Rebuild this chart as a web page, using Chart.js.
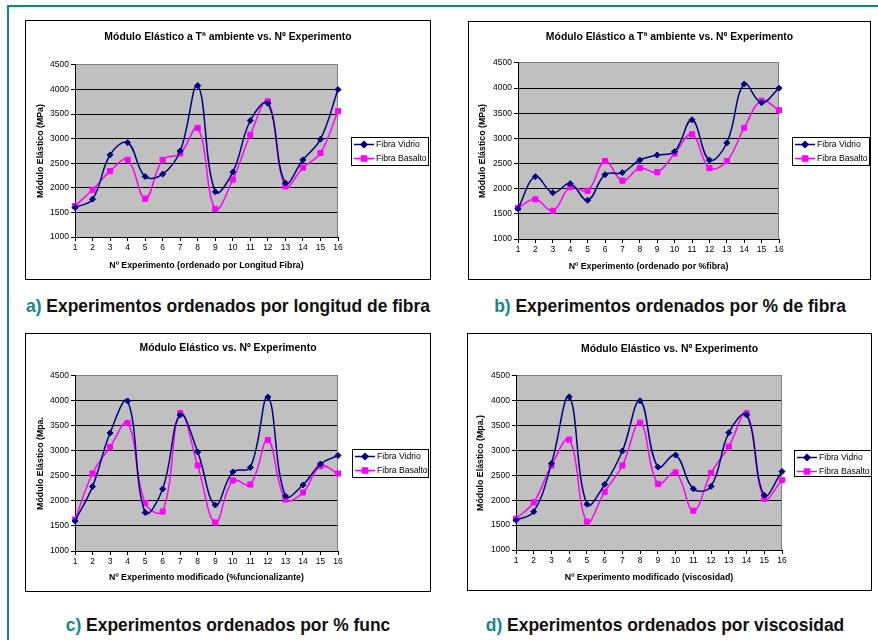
<!DOCTYPE html>
<html><head><meta charset="utf-8">
<script src="https://cdn.jsdelivr.net/npm/chart.js@4.4.1/dist/chart.umd.min.js"></script>
<style>
html,body{margin:0;padding:0;background:#fff;}
body{width:878px;height:640px;position:relative;overflow:hidden;}
#frame{position:absolute;left:7px;top:5px;width:900px;height:700px;border-left:2px solid #0E8A83;border-top:2px solid #0E8A83;}
.box{position:absolute;}
.box canvas{display:block;}
.capwrap{position:absolute;height:22px;}
.cap{position:absolute;left:50%;top:0;font-family:'Liberation Sans',Arial,sans-serif;font-weight:bold;font-size:18.5px;color:#111;white-space:nowrap;line-height:22px;transform-origin:50% 50%;transform:translateX(-50%);}
.cap span{color:#0E8A83;}
</style></head>
<body>
<div id="frame"></div>
<div class="box" style="left:25px;top:20px"><canvas id="ca" width="406" height="260"></canvas></div>
<div class="box" style="left:468px;top:21px"><canvas id="cb" width="403" height="259"></canvas></div>
<div class="box" style="left:25px;top:333px"><canvas id="cc" width="406" height="259"></canvas></div>
<div class="box" style="left:467px;top:333px"><canvas id="cd" width="405" height="258"></canvas></div>
<div class="capwrap" style="left:25px;top:295px;width:406px"><div class="cap" id="capA"><span>a)</span> Experimentos ordenados por longitud de fibra</div></div>
<div class="capwrap" style="left:468px;top:295px;width:403px"><div class="cap"><span>b)</span> Experimentos ordenados por % de fibra</div></div>
<div class="capwrap" style="left:25px;top:614px;width:406px"><div class="cap"><span>c)</span> Experimentos ordenados por % func</div></div>
<div class="capwrap" style="left:462px;top:614px;width:405px"><div class="cap"><span>d)</span> Experimentos ordenados por viscosidad</div></div>
<script>
// ---- data ----
const categories = ['1','2','3','4','5','6','7','8','9','10','11','12','13','14','15','16'];
const seriesNames = ['Fibra Vidrio', 'Fibra Basalto'];
const yTicks = [1000, 1500, 2000, 2500, 3000, 3500, 4000, 4500];

const vidrioA  = [1600,1770,2670,2920,2230,2280,2750,4080,1920,2320,3370,3720,2100,2570,2990,4000];
const basaltoA = [1630,1960,2340,2570,1780,2570,2700,3220,1570,2170,3080,3760,2030,2410,2710,3560];

const vidrioB  = [1600,2240,1920,2100,1770,2280,2320,2570,2670,2740,3370,2570,2910,4080,3710,4000];
const basaltoB = [1620,1790,1560,2030,1960,2550,2160,2410,2330,2700,3080,2410,2550,3210,3750,3560];

const vidrioC  = [1600,2290,3360,4000,1770,2240,3720,2980,1920,2580,2670,4080,2100,2320,2740,2910];
const basaltoC = [1630,2550,3080,3560,1960,1790,3760,2710,1570,2410,2330,3220,2030,2170,2700,2550];

const vidrioD  = [1600,1770,2740,4080,1920,2320,2990,4000,2670,2910,2230,2280,3360,3720,2100,2580];
const basaltoD = [1630,1960,2700,3220,1570,2170,2700,3560,2330,2560,1790,2550,3080,3750,2030,2410];

const titleAB = 'Módulo Elástico a Tª ambiente vs. Nº Experimento';
const titleCD = 'Módulo Elástico vs. Nº Experimento';
const yTitleA = 'Módulo Elástico (MPa)';
const yTitleB = 'Módulo Elástico (MPa)';
const yTitleC = 'Módulo Elástico (Mpa.';
const yTitleD = 'Módulo Elástico (Mpa.)';
const xTitleA = 'Nº Experimento (ordenado por Longitud Fibra)';
const xTitleB = 'Nº Experimento (ordenado por %fibra)';
const xTitleC = 'Nº Experimento modificado (%funcionalizante)';
const xTitleD = 'Nº Experimento modificado (viscosidad)';

// ---- captions: condensed look ----
(function(){
  const caps = document.querySelectorAll('.cap');
  const a = document.getElementById('capA');
  const s = 404 / a.getBoundingClientRect().width;
  caps.forEach(c => { c.style.transform = 'translateX(-50%) scaleX(' + s + ')'; });
})();

// ---- styling ----
Chart.defaults.font.family = "'Liberation Sans', Arial, sans-serif";
Chart.defaults.color = '#000';

const excelPlugin = {
  id: 'excelLook',
  beforeDraw(chart) {
    const {ctx, chartArea: a} = chart;
    ctx.save();
    ctx.fillStyle = '#C0C0C0';
    ctx.fillRect(a.left, a.top, a.right - a.left, a.bottom - a.top);
    ctx.restore();
  },
  beforeDatasetsDraw(chart) {
    const {ctx, chartArea: a} = chart;
    ctx.save();
    ctx.strokeStyle = '#808080';
    ctx.lineWidth = 1;
    ctx.beginPath();
    ctx.moveTo(Math.round(a.right) - 0.5, a.top);
    ctx.lineTo(Math.round(a.right) - 0.5, a.bottom);
    ctx.stroke();
    ctx.restore();
  },
  afterDraw(chart, args, opts) {
    const ctx = chart.ctx;
    const L = opts.legend;
    ctx.save();
    ctx.strokeStyle = '#000';
    ctx.lineWidth = 1;
    ctx.strokeRect(0.5, 0.5, chart.width - 1, chart.height - 1);
    ctx.fillStyle = '#fff';
    ctx.fillRect(L.x + 0.5, L.y + 0.5, L.w, L.h);
    ctx.strokeRect(L.x + 0.5, L.y + 0.5, L.w, L.h);
    chart.data.datasets.forEach((ds, i) => {
      const y = L.y + 7.5 + i * 14;
      ctx.strokeStyle = ds.borderColor;
      ctx.lineWidth = ds.borderWidth;
      ctx.beginPath();
      ctx.moveTo(L.x + 3, y);
      ctx.lineTo(L.x + 23, y);
      ctx.stroke();
      ctx.fillStyle = ds.pointBackgroundColor;
      ctx.strokeStyle = ds.pointBorderColor;
      Chart.helpers.drawPoint(ctx, {pointStyle: ds.pointStyle, radius: ds.pointRadius, borderWidth: 1, rotation: 0}, L.x + 13, y);
      ctx.fillStyle = '#000';
      ctx.font = "8.6px 'Liberation Sans', Arial, sans-serif";
      ctx.textBaseline = 'middle';
      ctx.textAlign = 'left';
      ctx.fillText(ds.label, L.x + 25, y + 0.5);
    });
    ctx.restore();
  }
};

function makeChart(id, vidrio, basalto, title, yTitle, xTitle, lay) {
  return new Chart(document.getElementById(id), {
    type: 'line',
    data: {
      labels: categories,
      datasets: [
        {label: seriesNames[0], data: vidrio, borderColor: '#000080', backgroundColor: '#000080',
         pointBackgroundColor: '#000080', pointBorderColor: '#000080', pointStyle: 'rectRot',
         pointRadius: 3, pointBorderWidth: 1, borderWidth: 1.5, tension: 0.4, fill: false},
        {label: seriesNames[1], data: basalto, borderColor: '#FF00FF', backgroundColor: '#FF00FF',
         pointBackgroundColor: '#FF00FF', pointBorderColor: '#FF00FF', pointStyle: 'rect',
         pointRadius: 3.6, pointBorderWidth: 1, borderWidth: 1.5, tension: 0.4, fill: false}
      ]
    },
    options: {
      responsive: false,
      animation: false,
      devicePixelRatio: 1,
      layout: {padding: 0},
      plugins: {
        legend: {display: false},
        tooltip: {enabled: false},
        title: {display: true, text: title, font: {size: 10.4, weight: 'bold'}, color: '#000',
                padding: {top: lay.tTop, bottom: lay.tBottom}},
        excelLook: {legend: lay.legend}
      },
      scales: {
        x: {
          type: 'category',
          offset: false,
          afterFit: s => { s.height = lay.xH; },
          grid: {drawOnChartArea: false, drawTicks: true, tickLength: 4, color: '#000', tickColor: '#000'},
          border: {display: true, color: '#000', width: 1},
          ticks: {font: {size: 8.5}, color: '#000', padding: 2, maxRotation: 0, autoSkip: false},
          title: {display: true, text: xTitle, font: {size: 8.8, weight: 'bold'}, color: '#000',
                  padding: {top: 0, bottom: lay.xTitlePad}}
        },
        y: {
          min: yTicks[0],
          max: yTicks[yTicks.length - 1],
          afterFit: s => { s.width = lay.yW; },
          afterBuildTicks: s => { s.ticks = yTicks.map(v => ({value: v})); },
          grid: {
            drawTicks: true, tickLength: 4,
            color: c => (c.tick && c.tick.value === yTicks[yTicks.length - 1]) ? '#808080' : '#000',
            tickColor: '#000', lineWidth: 1
          },
          border: {display: true, color: '#000', width: 1},
          ticks: {font: {size: 8.5}, color: '#000', padding: 2, callback: v => String(v)},
          title: {display: true, text: yTitle, font: {size: 8.8, weight: 'bold'}, color: '#000',
                  padding: {top: lay.yTitlePad, bottom: 0}}
        },
        legendSpace: {
          type: 'linear',
          position: 'right',
          display: true,
          afterFit: s => { s.width = lay.right; },
          grid: {display: false, drawTicks: false},
          border: {display: false},
          ticks: {display: false}
        }
      }
    },
    plugins: [excelPlugin]
  });
}

makeChart('ca', vidrioA, basaltoA, titleAB, yTitleA, xTitleA,
  {right: 93, tTop: 10.8, tBottom: 21.7, xH: 43, yW: 50, xTitlePad: 9.5, yTitlePad: 10.6, legend: {x: 326, y: 117, w: 77, h: 28}});
makeChart('cb', vidrioB, basaltoB, titleAB, yTitleB, xTitleB,
  {right: 92, tTop: 9.8, tBottom: 19.7, xH: 41, yW: 50, xTitlePad: 8.5, yTitlePad: 9.6, legend: {x: 324, y: 116, w: 77, h: 28}});
makeChart('cc', vidrioC, basaltoC, titleCD, yTitleC, xTitleC,
  {right: 93, tTop: 8.8, tBottom: 21.7, xH: 41, yW: 50, xTitlePad: 8.9, yTitlePad: 10.6, legend: {x: 327, y: 116, w: 76, h: 28}});
makeChart('cd', vidrioD, basaltoD, titleCD, yTitleD, xTitleD,
  {right: 90, tTop: 9.8, tBottom: 20.7, xH: 41, yW: 49, xTitlePad: 8.5, yTitlePad: 8.6, legend: {x: 327, y: 117, w: 77, h: 26}});
</script>
</body></html>
